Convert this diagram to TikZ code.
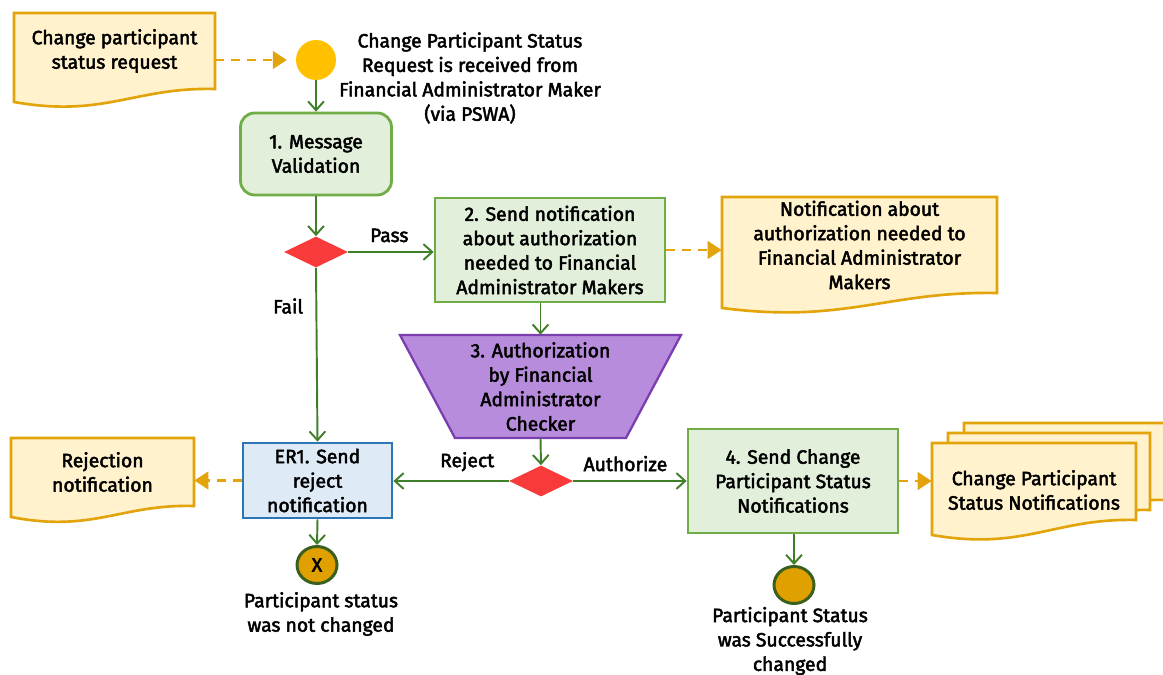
\documentclass[tikz,border=0pt]{standalone}
\usepackage{fontspec}
\setmainfont{Fira Sans}[FakeBold=2.4]
\usetikzlibrary{arrows.meta,shapes.geometric}
\definecolor{gfill}{HTML}{E2EFDA}
\definecolor{gdraw}{HTML}{70AD47}
\definecolor{bfill}{HTML}{DEEBF7}
\definecolor{bdraw}{HTML}{2E75B6}
\definecolor{dfill}{HTML}{FFF2CC}
\definecolor{ddraw}{HTML}{E3A30B}
\definecolor{garrow}{HTML}{3F7F2A}
\definecolor{dred}{HTML}{F83A3A}
\definecolor{pfill}{HTML}{B88CDC}
\definecolor{pdraw}{HTML}{7A3EB1}
\definecolor{startc}{HTML}{FFC000}
\definecolor{endc}{HTML}{E0A000}
\definecolor{endb}{HTML}{3A5F1E}
\newcommand\wavedoc[5]{%
  \draw[docst] (#1,#2) -- (#3,#2) -- (#3,#4)
    .. controls ({#3-0.4*(#3-#1)},{#4-2}) and ({#1+0.45*(#3-#1)},{#5+16}) .. (#1,#5) -- cycle;}
\begin{document}
\begin{tikzpicture}[x=0.02cm,y=-0.02cm,
  every node/.style={font=\fontsize{11}{13.9}\selectfont, align=center, inner sep=0pt},
  gbox/.style={draw=gdraw, fill=gfill, line width=1.6pt},
  bbox/.style={draw=bdraw, fill=bfill, line width=1.6pt},
  docst/.style={draw=ddraw, fill=dfill, line width=1.5pt},
  flow/.style={draw=garrow, line width=1.1pt, -{Straight Barb[length=5pt,width=9pt,line width=1.1pt]}},
  dflow/.style={draw=ddraw, line width=1.6pt, dash pattern=on 5pt off 4pt, -{Triangle[length=8pt,width=10pt]}},
  dec/.style={diamond, fill=dred, minimum width=1.28cm, minimum height=0.62cm, inner sep=0pt},
  endst/.style={ellipse, fill=endc, draw=endb, line width=1.7pt, minimum width=0.8cm, minimum height=0.74cm}]
\path[use as bounding box] (0,0) rectangle (1163,675);

% documents
\wavedoc{14}{13}{215}{89}{102}
\node (d1) [minimum width=4.02cm, minimum height=1.52cm] at (114.5,51) {Change participant\\status request};
\wavedoc{722}{197}{997}{293}{308}
\node (d2) [minimum width=5.5cm, minimum height=1.92cm] at (859.5,245) {Notification about\\authorization needed to\\Financial Administrator\\Makers};
\wavedoc{11}{438}{194}{506}{517}
\node (rej) [minimum width=3.66cm, minimum height=1.36cm] at (102.5,472) {Rejection\\notification};
\wavedoc{964}{423}{1166}{500}{515}
\wavedoc{948}{433}{1150}{510}{525}
\wavedoc{932}{443}{1136}{520}{535}
\node (md) [minimum width=4.08cm, minimum height=1.54cm] at (1034,490) {Change Participant\\Status Notifications};

% start
\node (st) [circle, fill=startc, minimum size=0.8cm] at (316,60) {};
\node (lbl0) at (470,78) {Change Participant Status\\Request is received from\\Financial Administrator Maker\\(via PSWA)};

% boxes
\node (b1) [gbox, rounded corners=8pt, minimum width=3.02cm, minimum height=1.64cm] at (316,154) {1. Message\\Validation};
\node (dm1) [dec] at (316,252) {};
\node (b2) [gbox, minimum width=4.6cm, minimum height=2.08cm] at (550,250) {2. Send notification\\about authorization\\needed to Financial\\Administrator Makers};
\draw[draw=pdraw, fill=pfill, line width=1.3pt] (400,335) -- (681,335) -- (626,438) -- (455,438) -- cycle;
\node (t3) [minimum width=5.62cm, minimum height=2.06cm] at (540.5,386.5) {3. Authorization\\by Financial\\Administrator\\Checker};
\node (dm2) [dec] at (541,481) {};
\node (er1) [bbox, minimum width=2.98cm, minimum height=1.5cm] at (317.5,480.5) {ER1. Send\\reject\\notification};
\node (b4) [gbox, minimum width=4.2cm, minimum height=2.08cm] at (793,481) {4. Send Change\\Participant Status\\Notifications};

% ends
\node (e1) [endst] at (317,565) {X};
\node (e2) [endst] at (794,585) {};
\node (lbl1) at (321,614) {Participant status\\was not changed};
\node (lbl2) at (790,641) {Participant Status\\was Successfully\\changed};

% connectors
\draw[dflow, shorten >=5pt] (d1.east |- st.west) -- (st.west);
\draw[flow] (st.south) -- (b1.north);
\draw[flow] (b1.south) -- (dm1.north);
\draw[flow] (dm1.east) -- (dm1.east -| b2.west) node[pos=0.48, above=5pt] (lp) {Pass};
\draw[flow] (dm1.south) -- (er1.north) node[pos=0.22, left=7pt] (lf) {Fail};
\draw[dflow] (b2.east) -- (b2.east -| d2.west);
\draw[flow] (b2.south -| t3.north) -- (t3.north);
\draw[flow] (t3.south) -- (dm2.north);
\draw[flow] (dm2.west) -- (dm2.west -| er1.east) node[pos=0.36, above=5pt] (lr) {Reject};
\draw[flow] (dm2.east) -- (dm2.east -| b4.west) node[pos=0.46, above=5pt] (la) {Authorize};
\draw[dflow] (er1.west) -- (er1.west -| rej.east);
\draw[dflow] (b4.east) -- (b4.east -| md.west);
\draw[flow] (er1.south) -- (e1.north);
\draw[flow] (b4.south -| e2.north) -- (e2.north);
\end{tikzpicture}
\end{document}
